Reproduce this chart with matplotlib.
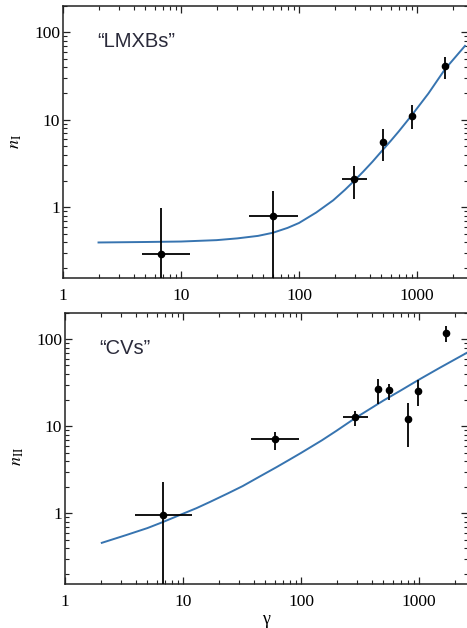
import matplotlib
matplotlib.use("Agg")
import matplotlib.pyplot as plt
from matplotlib.ticker import FuncFormatter, NullFormatter, LogLocator
import numpy as np

plt.rcParams["font.family"] = ["Liberation Serif", "DejaVu Serif"]
plt.rcParams["mathtext.fontset"] = "stix"

# "LMXBs" panel: points with asymmetric errors (absolute low/high bounds)
lmxb_x = [6.8, 60, 292, 515, 915, 1740]
lmxb_x_lo = [4.7, 37.7, 231, 515, 860, 1740]
lmxb_x_hi = [11.9, 98, 377, 515, 975, 1740]
lmxb_y = [0.29, 0.79, 2.09, 5.5, 10.9, 41]
lmxb_y_lo = [0.01, 0.01, 1.23, 3.4, 7.8, 29]
lmxb_y_hi = [0.97, 1.52, 2.95, 7.8, 14.6, 52]

# fitted curve
lmxb_fit_x = [2.0, 5, 10, 20, 30, 45, 60, 80, 100, 140, 195, 245, 290,
              350, 420, 500, 600, 700, 900, 1250, 1730, 2550]
lmxb_fit_y = [0.395, 0.40, 0.405, 0.42, 0.44, 0.47, 0.51, 0.58, 0.66, 0.87,
              1.2, 1.58, 1.97, 2.55, 3.32, 4.35, 5.75, 7.35, 11.2, 20,
              38, 70]

# "CVs" panel
cv_x = [6.8, 60, 287, 447, 553, 807, 980, 1700]
cv_x_lo = [3.9, 37.4, 228, 447, 553, 807, 980, 1700]
cv_x_hi = [11.9, 97, 367, 447, 553, 807, 980, 1700]
cv_y = [0.96, 7.1, 12.7, 26.6, 26, 12.3, 25.6, 117]
cv_y_lo = [0.01, 5.3, 10, 18, 20, 5.8, 17, 94]
cv_y_hi = [2.3, 8.5, 15, 35, 31, 18.4, 34, 140]

cv_fit_x = [2.05, 3.3, 5, 6.8, 9.4, 13, 17, 24, 32, 45, 62, 80, 100, 150,
            200, 287, 400, 500, 700, 986, 1500, 2550]
cv_fit_y = [0.46, 0.565, 0.68, 0.80, 0.96, 1.15, 1.36, 1.7, 2.06, 2.67, 3.4,
            4.15, 4.95, 6.9, 8.9, 12.4, 16.4, 19.8, 25.8, 34, 47, 70]

LINE_BLUE = "#3774b0"
INK = "#222222"
W, H = 467, 628


def draw_panel(ax, x, xlo, xhi, y, ylo, yhi, fx, fy, label, xmax):
    x, y = np.array(x), np.array(y)
    xerr = [x - np.array(xlo), np.array(xhi) - x]
    yerr = [y - np.array(ylo), np.array(yhi) - y]
    ax.plot(fx, fy, color=LINE_BLUE, lw=1.4, zorder=2)
    ax.errorbar(x, y, xerr=xerr, yerr=yerr, fmt="o", color="black",
                ms=4.5, elinewidth=1.3, capsize=0, zorder=3)
    ax.set_xscale("log")
    ax.set_yscale("log")
    ax.set_xlim(1, xmax)
    ax.set_ylim(0.155, 200)
    fmt = FuncFormatter(lambda v, p: f"{v:g}")
    ax.xaxis.set_major_formatter(fmt)
    ax.yaxis.set_major_formatter(fmt)
    ax.xaxis.set_minor_formatter(NullFormatter())
    ax.yaxis.set_minor_formatter(NullFormatter())
    ax.yaxis.set_minor_locator(LogLocator(subs=np.arange(2, 10)))
    ax.tick_params(which="both", direction="in", top=True, right=True,
                   labelsize=12.5, color=INK)
    ax.tick_params(which="major", length=5, width=0.9)
    ax.tick_params(which="minor", length=3, width=0.8)
    ax.tick_params(axis="x", pad=7)
    ax.tick_params(axis="y", pad=2)
    for s in ax.spines.values():
        s.set_linewidth(1.1)
        s.set_color(INK)
    ax.text(0.085, 0.87, label, transform=ax.transAxes,
            family=["Liberation Sans", "DejaVu Sans"], fontsize=14.5,
            color="#2a2a3a", ha="left", va="center")


fig = plt.figure(figsize=(W / 100, H / 100), dpi=100)

right = 467.5
ax1 = fig.add_axes([63 / W, 1 - 278 / H, (right - 63) / W, 272 / H])
ax2 = fig.add_axes([65 / W, 1 - 584 / H, (right - 65) / W, 271 / H])

draw_panel(ax1, lmxb_x, lmxb_x_lo, lmxb_x_hi, lmxb_y, lmxb_y_lo, lmxb_y_hi,
           lmxb_fit_x, lmxb_fit_y, "\u201cLMXBs\u201d",
           10 ** ((right - 63) / 118))
draw_panel(ax2, cv_x, cv_x_lo, cv_x_hi, cv_y, cv_y_lo, cv_y_hi,
           cv_fit_x, cv_fit_y, "\u201cCVs\u201d",
           10 ** ((right - 65) / 118))

ax1.set_ylabel(r"$n_{\mathrm{I}}$", fontsize=13)
ax1.yaxis.set_label_coords(-0.097, 0.5)
ax2.set_ylabel(r"$n_{\mathrm{II}}$", fontsize=13)
ax2.yaxis.set_label_coords(-0.097, 0.47)
ax2.set_xlabel("\u03b3", fontsize=13, labelpad=1)

fig.savefig("out.png", dpi=100)
